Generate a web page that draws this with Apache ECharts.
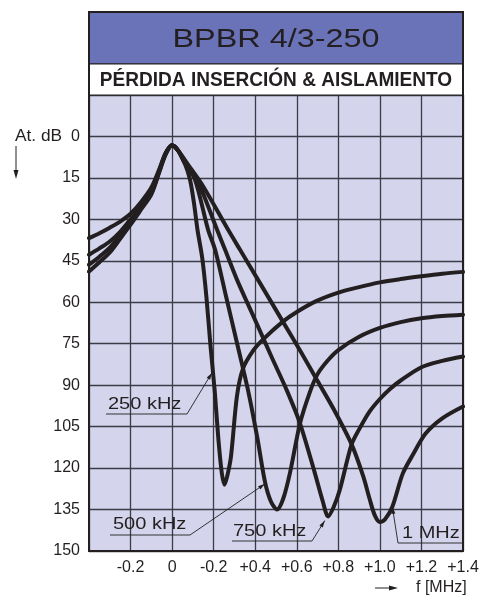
<!DOCTYPE html>
<html>
<head>
<meta charset="utf-8">
<script src="https://cdn.jsdelivr.net/npm/echarts@6/dist/echarts.min.js"></script>
<style>html,body{margin:0;padding:0;background:#fff}#c{width:482px;height:597px}</style>
</head>
<body>
<div id="c"></div>
<script>
// ---------- data ----------
const seriesNames = ['250 kHz', '500 kHz', '750 kHz', '1 MHz'];

const curve250 = [[-0.4,36.8],[-0.35,35.0],[-0.3,33.0],[-0.25,30.8],[-0.2,28.0],[-0.15,23.8],[-0.1,18.5],[-0.06,11.5],[-0.03,5.8],[0,3.2],[0.03,5.2],[0.06,9.5],[0.086,15.6],[0.105,24],[0.122,33.7],[0.145,44],[0.165,58],[0.185,76],[0.205,92],[0.223,109.8],[0.239,121.7],[0.252,126],[0.265,123],[0.283,116],[0.312,94],[0.341,84],[0.39,77.5],[0.437,73.5],[0.533,67],[0.6,63.5],[0.696,59.5],[0.8,56.5],[0.9,54.5],[1.0,52.8],[1.1,51.6],[1.2,50.6],[1.3,49.7],[1.4,49]];

const curve500 = [[-0.4,42.8],[-0.35,40.5],[-0.3,38],[-0.25,34.5],[-0.2,30],[-0.15,25.5],[-0.1,20],[-0.06,12],[-0.03,6],[0,3.2],[0.03,5.2],[0.06,9.5],[0.11,15.6],[0.173,33.7],[0.207,41],[0.26,58],[0.31,74],[0.365,91.7],[0.41,109],[0.447,125],[0.475,132],[0.505,135],[0.535,131],[0.567,121.8],[0.615,104],[0.663,92.5],[0.7,86],[0.75,81],[0.8,77.3],[0.9,72.5],[1.0,69.3],[1.1,67.2],[1.2,65.8],[1.3,65],[1.4,64.5]];

const curve750 = [[-0.4,46.4],[-0.35,43.5],[-0.3,40.2],[-0.25,35.8],[-0.2,30.8],[-0.15,26],[-0.1,20.6],[-0.06,12.2],[-0.03,6.2],[0,3.2],[0.03,5.2],[0.06,9.5],[0.125,16.5],[0.216,33.7],[0.255,41],[0.312,51.8],[0.4,66.5],[0.48,80],[0.551,91.7],[0.615,103.7],[0.687,121.8],[0.725,132],[0.751,137.5],[0.778,134],[0.807,127.9],[0.863,111.6],[0.9,106],[0.951,99.5],[1.0,95],[1.05,91.3],[1.1,88.3],[1.2,83.5],[1.3,81.2],[1.4,79.6]];

const curve1M = [[-0.4,48.9],[-0.35,45.5],[-0.3,42],[-0.25,37],[-0.2,31.9],[-0.15,26.5],[-0.1,21],[-0.06,12.5],[-0.03,6.3],[0,3.2],[0.03,5.2],[0.07,9.5],[0.149,18],[0.269,33.7],[0.327,41],[0.413,51.8],[0.533,67],[0.62,78],[0.7,88.5],[0.78,99],[0.865,111.6],[0.92,123],[0.95,131],[0.975,137],[1.0,139.5],[1.025,138.5],[1.06,134],[1.11,122],[1.16,115],[1.22,107.5],[1.3,102],[1.4,97.7]];

const curves = [curve250, curve500, curve750, curve1M];

const xMin = -0.4, xMax = 1.4, xStep = 0.2;
const xTickLabels = ['', '-0.2', '0', '-0.2', '+0.4', '+0.6', '+0.8', '+1.0', '+1.2', '+1.4'];
const yMin = -15, yMax = 150, yStep = 15;
const yTickLabels = ['', '0', '15', '30', '45', '60', '75', '90', '105', '120', '135', '150'];

const titleText = 'BPBR 4/3-250';
const subtitleText = 'PÉRDIDA INSERCIÓN & AISLAMIENTO';
const yAxisName = 'At. dB';
const xAxisName = 'f [MHz]';

// annotation anchor points on the curves (data coords)
const annotTips = [[0.192, 85.5], [0.447, 125.7], [0.735, 139], [1.06, 134]];

// ---------- chart ----------
const FONT = "'Liberation Sans', Arial, Helvetica, sans-serif";
const INK = '#231f20';
const chart = echarts.init(document.getElementById('c'));

chart.setOption({
  animation: false,
  grid: {left: 89, right: 19, top: 95, bottom: 46, show: true,
         backgroundColor: '#d4d4ec', borderColor: INK, borderWidth: 2},
  xAxis: {
    type: 'value', min: xMin, max: xMax, interval: xStep,
    axisLine: {show: false}, axisTick: {show: false},
    splitLine: {show: true, lineStyle: {color: '#3c3c48', width: 1.3}},
    axisLabel: {margin: 9, color: INK, fontSize: 16, fontFamily: FONT,
      showMinLabel: true, showMaxLabel: true,
      formatter: v => xTickLabels[Math.round((v - xMin) / xStep)] || ''}
  },
  yAxis: {
    type: 'value', inverse: true, min: yMin, max: yMax, interval: yStep,
    axisLine: {show: false}, axisTick: {show: false},
    splitLine: {show: true, lineStyle: {color: '#3c3c48', width: 1.3}},
    axisLabel: {margin: 9, color: INK, fontSize: 16, fontFamily: FONT,
      showMinLabel: true, showMaxLabel: true,
      formatter: v => yTickLabels[Math.round((v - yMin) / yStep)] || ''}
  },
  series: curves.map((d, i) => ({
    name: seriesNames[i], type: 'line', data: d, smooth: 0.3,
    showSymbol: false, clip: true,
    lineStyle: {color: INK, width: 4, cap: 'round', join: 'round'}, z: 3
  }))
});

function arrowHead(tip, from, len, half) {
  const dx = tip[0] - from[0], dy = tip[1] - from[1];
  const L = Math.hypot(dx, dy) || 1;
  const ux = dx / L, uy = dy / L;
  const bx = tip[0] - ux * len, by = tip[1] - uy * len;
  return [[tip[0], tip[1]], [bx - uy * half, by + ux * half], [bx + uy * half, by - ux * half]];
}

const g = [];
// title band
g.push({type: 'rect', shape: {x: 89, y: 12, width: 374, height: 52}, style: {fill: '#6a72b8', stroke: INK, lineWidth: 1}, z: 10});
g.push({type: 'rect', shape: {x: 89, y: 64, width: 374, height: 31}, style: {fill: '#ffffff', stroke: INK, lineWidth: 1}, z: 10});
g.push({type: 'rect', shape: {x: 89, y: 12, width: 374, height: 539}, style: {fill: 'none', stroke: INK, lineWidth: 2}, z: 12});
g.push({type: 'text', x: 276, y: 40, scaleX: 1.27, z: 13,
  style: {text: titleText, x: 0, y: 0, font: '25.5px ' + FONT, fill: INK, align: 'center', verticalAlign: 'middle'}});
g.push({type: 'text', x: 276, y: 80, scaleX: 0.93, z: 13,
  style: {text: subtitleText, x: 0, y: 0, font: 'bold 20.5px ' + FONT, fill: INK, align: 'center', verticalAlign: 'middle'}});

// y-axis name and arrow
g.push({type: 'text', x: 15, y: 137, scaleX: 1.08, z: 13,
  style: {text: yAxisName, x: 0, y: 0, font: '16px ' + FONT, fill: INK, align: 'left', verticalAlign: 'middle'}});
g.push({type: 'line', shape: {x1: 16, y1: 146, x2: 16, y2: 172}, style: {stroke: INK, lineWidth: 1}, z: 13});
g.push({type: 'polygon', shape: {points: arrowHead([16, 179], [16, 146], 9, 2.5)}, style: {fill: INK}, z: 13});

// x-axis name and arrow
g.push({type: 'text', x: 416, y: 588, z: 13,
  style: {text: xAxisName, x: 0, y: 0, font: '16px ' + FONT, fill: INK, align: 'left', verticalAlign: 'middle'}});
g.push({type: 'line', shape: {x1: 375, y1: 588, x2: 390, y2: 588}, style: {stroke: INK, lineWidth: 1}, z: 13});
g.push({type: 'polygon', shape: {points: arrowHead([398, 588], [375, 588], 9, 2.5)}, style: {fill: INK}, z: 13});

// annotation labels
const annotLayout = [
  {tx: 108, ty: 405, a: [106, 414], b: [187, 414]},
  {tx: 113, ty: 525, a: [110, 535], b: [190, 535]},
  {tx: 233, ty: 532, a: [232, 541], b: [312, 541]},
  {tx: 402, ty: 534, a: [462, 543], b: [398, 543]}
];
annotLayout.forEach((L, i) => {
  const tip = chart.convertToPixel({gridIndex: 0}, annotTips[i]);
  g.push({type: 'text', x: L.tx, y: L.ty, scaleX: 1.25, z: 14,
    style: {text: seriesNames[i], x: 0, y: 0, font: '16px ' + FONT, fill: INK, align: 'left', verticalAlign: 'middle'}});
  g.push({type: 'polyline', shape: {points: [L.a, L.b, tip]}, style: {stroke: INK, lineWidth: 0.9, fill: null}, z: 14});
  g.push({type: 'polygon', shape: {points: arrowHead(tip, L.b, 7, 2)}, style: {fill: INK}, z: 14});
});

chart.setOption({graphic: g});
</script>
</body>
</html>
